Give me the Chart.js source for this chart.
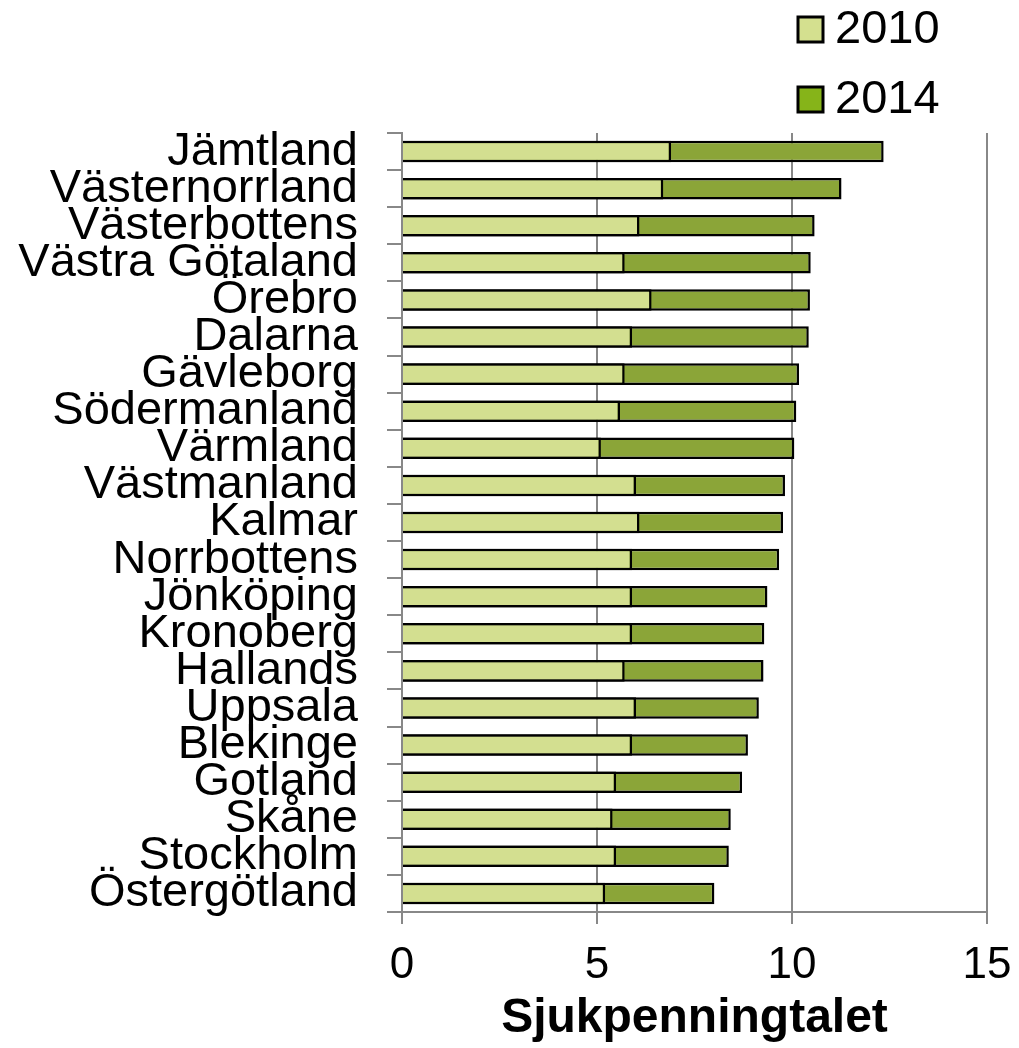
<!DOCTYPE html>
<html><head><meta charset="utf-8">
<script src="https://cdn.jsdelivr.net/npm/chart.js@4/dist/chart.umd.min.js"></script>
<style>html,body{margin:0;padding:0;background:#fff}#wrap{width:1019px;height:1048px;position:relative}</style>
</head><body><div id="wrap"><canvas id="c"></canvas></div>
<script>
const categories = ['Jämtland','Västernorrland','Västerbottens','Västra Götaland','Örebro','Dalarna','Gävleborg','Södermanland','Värmland','Västmanland','Kalmar','Norrbottens','Jönköping','Kronoberg','Hallands','Uppsala','Blekinge','Gotland','Skåne','Stockholm','Östergötland'];
const values2010 = [6.90, 6.70, 6.09, 5.71, 6.40, 5.90, 5.71, 5.59, 5.10, 6.00, 6.09, 5.90, 5.90, 5.90, 5.71, 6.00, 5.90, 5.49, 5.40, 5.49, 5.21];
const values2014 = [12.35, 11.27, 10.58, 10.48, 10.46, 10.43, 10.18, 10.11, 10.06, 9.82, 9.77, 9.67, 9.37, 9.29, 9.27, 9.15, 8.87, 8.72, 8.43, 8.38, 8.01];
const seriesNames = ['2010', '2014'];
const xTicks = [0, 5, 10, 15];
const axisTitle = 'Sjukpenningtalet';

const FONT = '"Liberation Sans", Arial, sans-serif';
const GRID = '#888888';

const legendPlugin = {
  id: 'vlegend',
  afterDraw(chart) {
    const ctx = chart.ctx;
    chart.data.datasets.forEach((ds, i) => {
      const top = 17 + i * 70;
      ctx.save();
      ctx.fillStyle = ds.legendColor;
      ctx.fillRect(798, top, 25, 25);
      ctx.strokeStyle = '#000';
      ctx.lineWidth = 3;
      ctx.strokeRect(798, top, 25, 25);
      ctx.fillStyle = '#000';
      ctx.font = '47px ' + FONT;
      ctx.textBaseline = 'alphabetic';
      ctx.textAlign = 'left';
      ctx.fillText(ds.label, 835, top + 26);
      ctx.restore();
    });
  }
};

new Chart(document.getElementById('c'), {
  type: 'bar',
  data: {
    labels: categories,
    datasets: [
      { label: seriesNames[0], data: values2010, backgroundColor: '#d3df90', legendColor: '#d4e08f', borderColor: '#000', borderWidth: 2.5, grouped: false, categoryPercentage: 1, barPercentage: 0.58 },
      { label: seriesNames[1], data: values2014, backgroundColor: '#8ba538', legendColor: '#86b419', borderColor: '#000', borderWidth: 2.5, grouped: false, categoryPercentage: 1, barPercentage: 0.58 }
    ]
  },
  options: {
    indexAxis: 'y',
    responsive: true,
    maintainAspectRatio: false,
    animation: false,
    layout: { padding: { top: 133, right: 32, left: 0, bottom: 0 } },
    plugins: { legend: { display: false }, tooltip: { enabled: false } },
    scales: {
      y: {
        afterFit(s) { s.width = 402; s.paddingTop = 0; s.paddingBottom = 0; },
        grid: { offset: true, drawOnChartArea: false, drawTicks: true, tickLength: 15, color: GRID, lineWidth: 2 },
        border: { display: true, color: GRID, width: 2 },
        ticks: { autoSkip: false, color: '#000', padding: 29, font: { family: FONT, size: 47 } }
      },
      x: {
        min: 0, max: 15,
        afterBuildTicks(s) { s.ticks = xTicks.map(v => ({ value: v })); },
        afterFit(s) { s.height = 136; s.paddingLeft = 0; s.paddingRight = 0; },
        grid: { drawOnChartArea: true, drawTicks: true, tickLength: 12, color: GRID, lineWidth: 2 },
        border: { display: true, color: GRID, width: 2 },
        ticks: { color: '#000', padding: 15, font: { family: FONT, size: 44 } },
        title: { display: true, text: axisTitle, color: '#000', padding: { top: 0, bottom: 0 }, font: { family: FONT, size: 48, weight: 'bold' } }
      }
    }
  },
  plugins: [legendPlugin]
});
</script></body></html>
